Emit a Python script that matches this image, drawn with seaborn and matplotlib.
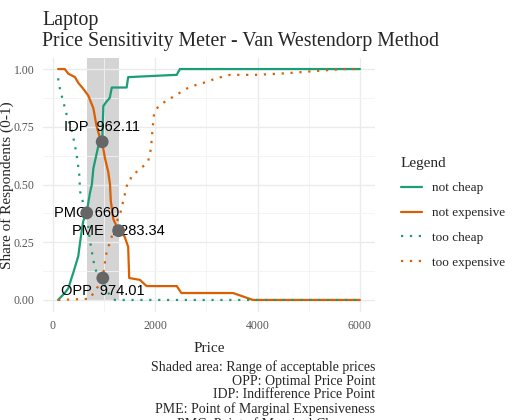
"""Van Westendorp price sensitivity meter for the laptop survey."""
import pandas as pd
import seaborn as sns
import matplotlib
matplotlib.use('Agg')
import matplotlib.pyplot as plt
from matplotlib.ticker import MultipleLocator

# curves
not_cheap_price = [100, 230, 300, 370, 400, 495, 530, 590, 660, 720, 760, 790, 890, 962, 985,
                   1050, 1110, 1150, 1440, 1470, 2420, 2480, 6000]
not_cheap_share = [0.00, 0.03, 0.05, 0.10, 0.12, 0.19, 0.25, 0.34, 0.38, 0.46, 0.50, 0.57, 0.67,
                   0.685, 0.84, 0.86, 0.875, 0.92, 0.92, 0.965, 0.975, 1.00, 1.00]

not_exp_price = [100, 230, 300, 430, 495, 590, 690, 790, 850, 920, 962, 1015, 1080, 1115, 1130,
                 1180, 1283, 1400, 1470, 1490, 1700, 1830, 2420, 2510, 3520, 3650, 3910, 6000]
not_exp_share = [1.00, 1.00, 0.98, 0.965, 0.94, 0.915, 0.885, 0.83, 0.755, 0.70, 0.685, 0.615,
                 0.555, 0.50, 0.43, 0.35, 0.30, 0.275, 0.23, 0.095, 0.087, 0.06, 0.06, 0.03, 0.03,
                 0.02, 0.00, 0.00]

too_cheap_price = [100, 140, 200, 270, 365, 430, 475, 515, 530, 590, 660, 720, 790, 850, 974,
                   1015, 1110, 1210, 6000]
too_cheap_share = [0.96, 0.91, 0.86, 0.80, 0.735, 0.67, 0.61, 0.54, 0.47, 0.42, 0.375, 0.26,
                   0.17, 0.12, 0.09, 0.06, 0.02, 0.00, 0.00]

too_exp_price = [100, 720, 820, 920, 974, 1000, 1050, 1115, 1210, 1310, 1375, 1450, 1490, 1540,
                 1700, 1860, 1915, 1950, 1980, 2090, 2350, 2610, 2840, 2940, 3200, 3460, 3980,
                 4430, 4760, 5220, 5670, 6000]
too_exp_share = [0.00, 0.005, 0.04, 0.07, 0.09, 0.14, 0.21, 0.25, 0.32, 0.37, 0.43, 0.50, 0.505,
                 0.54, 0.565, 0.60, 0.655, 0.75, 0.815, 0.845, 0.88, 0.915, 0.935, 0.94, 0.96,
                 0.975, 0.975, 0.98, 0.985, 0.993, 1.00, 1.00]

curve_names = ['not cheap', 'not expensive', 'too cheap', 'too expensive']

point_names = ['IDP', 'PMC', 'PME', 'OPP']
point_price = [962.11, 660, 1283.34, 974.01]
point_share = [0.685, 0.377, 0.30, 0.095]
point_text = ['IDP  962.11', 'PMC  660', 'PME  1283.34', 'OPP  974.01']

caption = ('Shaded area: Range of acceptable prices\nOPP: Optimal Price Point\n'
           'IDP: Indifference Price Point\nPME: Point of Marginal Expensiveness\n'
           'PMC: Point of Marginal Cheapness')

frames = []
for name, px, sh in zip(curve_names,
                        [not_cheap_price, not_exp_price, too_cheap_price, too_exp_price],
                        [not_cheap_share, not_exp_share, too_cheap_share, too_exp_share]):
    frames.append(pd.DataFrame({'price': px, 'share': sh, 'curve': name}))
df = pd.concat(frames, ignore_index=True)

sns.set_theme(style='whitegrid')
plt.rcParams['font.family'] = ['Liberation Serif', 'DejaVu Serif']

fig = plt.figure(figsize=(5.15, 4.2), dpi=100)
ax = fig.add_axes([43 / 515, 1 - 311.5 / 420, 332 / 515, 254 / 420])

green, orange = '#1B9E77', '#D95F02'
palette = {'not cheap': green, 'not expensive': orange, 'too cheap': green, 'too expensive': orange}
dashes = {'not cheap': '', 'not expensive': '', 'too cheap': (1, 3), 'too expensive': (1, 3)}

# range of acceptable prices
ax.fill_between([point_price[1], point_price[2]], 0, 1.05, color='#d4d4d4', lw=0, zorder=0.2)

sns.lineplot(data=df, x='price', y='share', hue='curve', style='curve', hue_order=curve_names,
             style_order=curve_names, palette=palette, dashes=dashes, estimator=None, sort=True,
             lw=1.6, ax=ax, zorder=2)

for txt, x, y, name in zip(point_text, point_price, point_share, point_names):
    dy = {'IDP': 11, 'OPP': -9}.get(name, 0)
    ax.annotate(txt, (x, y), xytext=(0, dy), textcoords='offset points', ha='center',
                va='center', fontsize=10.5, family=['Liberation Sans', 'DejaVu Sans'],
                color='black', zorder=3)
sns.scatterplot(x=point_price, y=point_share, color='#666666', s=85, edgecolor='none', ax=ax,
                zorder=4)

ax.set_xlim(-195, 6295)
ax.set_ylim(-0.05, 1.05)
ax.set_xticks([0, 2000, 4000, 6000])
ax.set_yticks([0, 0.25, 0.5, 0.75, 1.0])
ax.set_yticklabels(['0.00', '0.25', '0.50', '0.75', '1.00'])
ax.xaxis.set_minor_locator(MultipleLocator(1000))
ax.yaxis.set_minor_locator(MultipleLocator(0.125))
ax.grid(which='major', color='#ebebeb', lw=1.0)
ax.grid(which='minor', color='#f2f2f2', lw=0.6)
for s in ax.spines.values():
    s.set_visible(False)
ax.tick_params(which='both', length=0, labelsize=8.5, labelcolor='#555555', pad=6)
ax.set_xlabel('Price', fontsize=11, labelpad=7)
ax.set_ylabel('')
fig.text(7 / 515, 1 - 185 / 420, 'Share of Respondents (0-1)', rotation=90, ha='center',
         va='center', fontsize=11)

handles, labels = ax.get_legend_handles_labels()
ax.get_legend().remove()
leg = fig.legend(handles, labels, loc='upper left', bbox_to_anchor=(394 / 515, 1 - 150 / 420),
                 frameon=False, title='Legend', fontsize=9.5, title_fontsize=11,
                 handlelength=1.6, handletextpad=0.75, labelspacing=0.95, borderpad=0,
                 alignment='left')
for h in leg.legend_handles:
    h.set_linewidth(1.6)

fig.text(42 / 515, 1 - 11 / 420, 'Laptop\nPrice Sensitivity Meter - Van Westendorp Method',
         ha='left', va='top', fontsize=14.3, linespacing=1.15)
fig.text(375 / 515, 1 - 360 / 420, caption, ha='right', va='top', fontsize=10,
         linespacing=1.08)

fig.savefig('out.png', dpi=100)
